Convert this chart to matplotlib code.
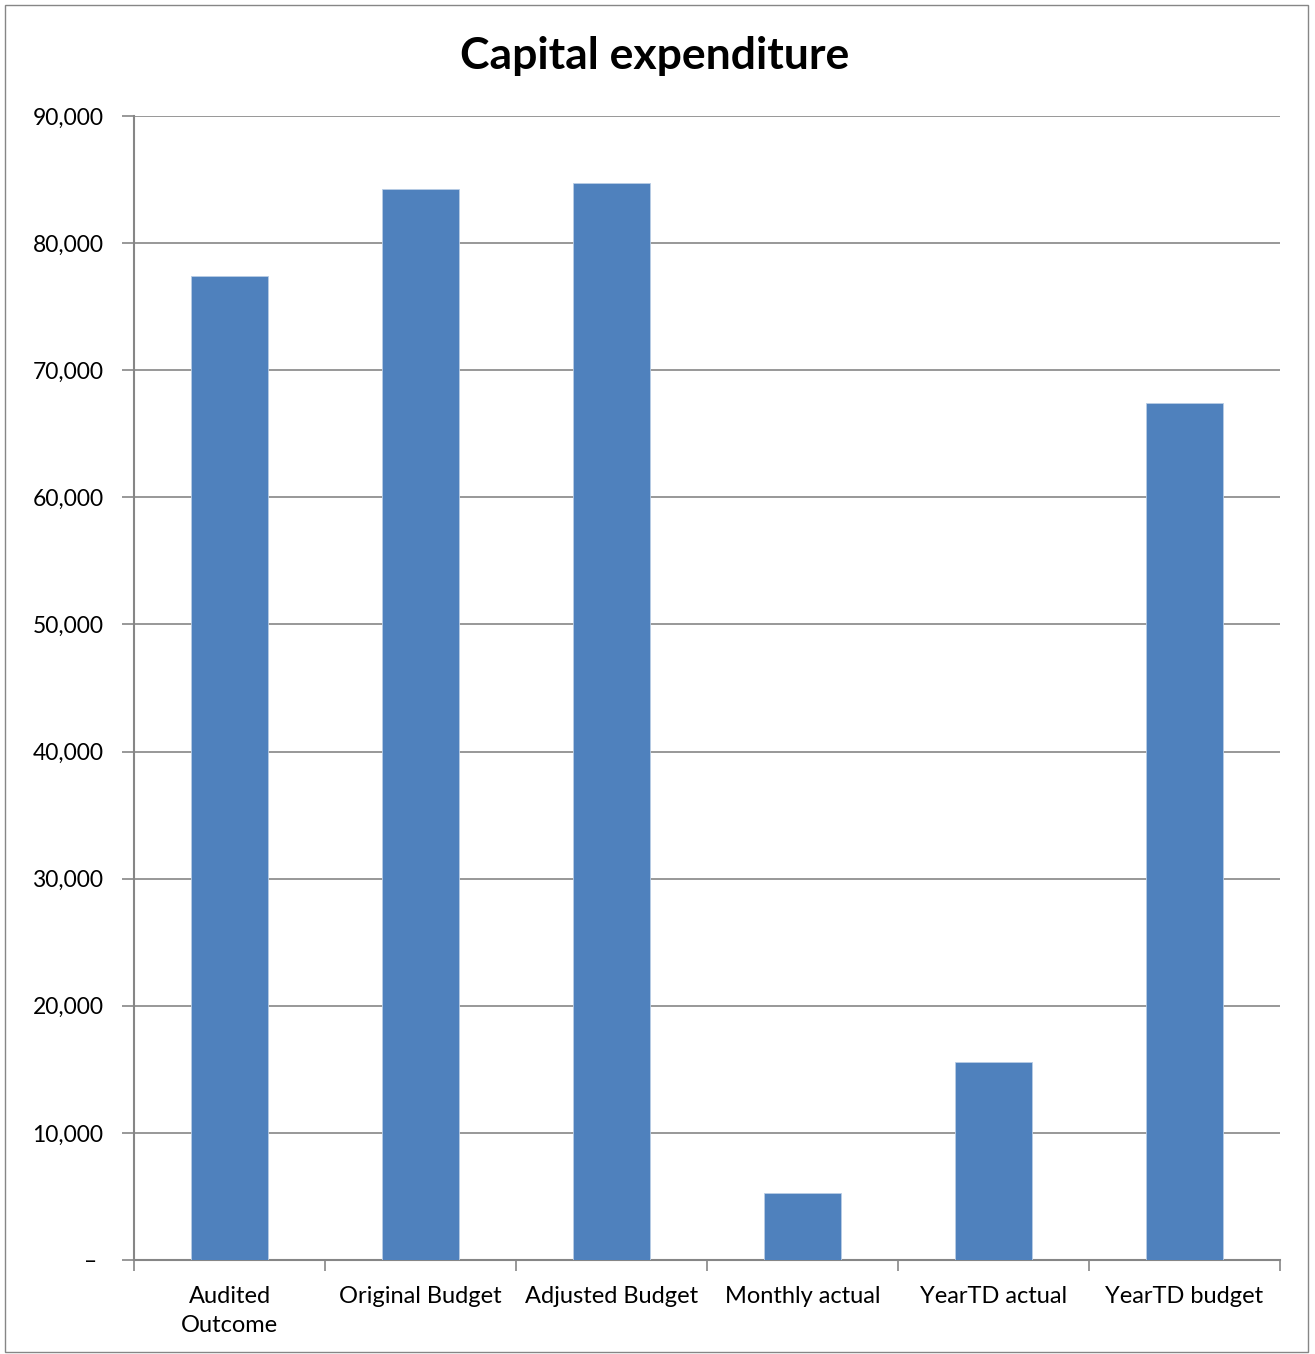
import numpy as np
import matplotlib
matplotlib.use('Agg')
import matplotlib.pyplot as plt
from matplotlib.patches import Rectangle
from matplotlib.ticker import FuncFormatter

# data
categories = ["Audited\nOutcome", "Original Budget", "Adjusted Budget",
              "Monthly actual", "YearTD actual", "YearTD budget"]
values = [77400, 84230, 84700, 5250, 15580, 67450]
yticks = [0, 10000, 20000, 30000, 40000, 50000, 60000, 70000, 80000, 90000]

plt.rcParams['font.family'] = ['Lato', 'DejaVu Sans']

W, H = 1315, 1354
fig = plt.figure(figsize=(W / 100, H / 100), dpi=100)
# axes box in pixel terms: left 134, right 1280, top 116, bottom 1260
ax = fig.add_axes([134 / W, 1 - 1260 / H, (1280 - 134) / W, (1260 - 116) / H])

grey = '#868686'
x = np.arange(len(categories))
ax.bar(x, values, width=0.40, color='#4F81BD', edgecolor='#B9CDE5', linewidth=0.6, zorder=3)

ax.set_xlim(-0.5, len(categories) - 0.5)
ax.set_ylim(0, 90000)
ax.set_yticks(yticks)
ax.yaxis.set_major_formatter(FuncFormatter(lambda v, p: "\u2013 " if v == 0 else "{:,.0f}".format(v)))
ax.tick_params(axis='y', length=9, width=1.2, color=grey, labelsize=16.5, pad=13)

# category boundaries as ticks, labels in the middle
ax.set_xticks(np.arange(len(categories) + 1) - 0.5)
ax.set_xticklabels([])
ax.set_xticks(x, minor=True)
ax.set_xticklabels(categories, minor=True, fontsize=17, linespacing=1.45)
ax.tick_params(axis='x', which='minor', length=0, pad=19)
ax.tick_params(axis='x', which='major', length=8, width=1.2, color=grey)

ax.grid(axis='y', color=grey, linewidth=1.2, zorder=0)
for s in ['top', 'right']:
    ax.spines[s].set_visible(False)
for s in ['left', 'bottom']:
    ax.spines[s].set_color(grey)
    ax.spines[s].set_linewidth(1.5)

fig.text(655 / W, 1 - 56 / H, "Capital expenditure", ha='center', va='center',
         fontsize=32, fontweight='bold')

# outer chart border
fig.patches.append(Rectangle((5 / W, 1 - 1352 / H), (1308 - 5) / W, (1352 - 5) / H,
                             transform=fig.transFigure, fill=False, edgecolor=grey, linewidth=1.0))

fig.savefig("out.png", dpi=100)
